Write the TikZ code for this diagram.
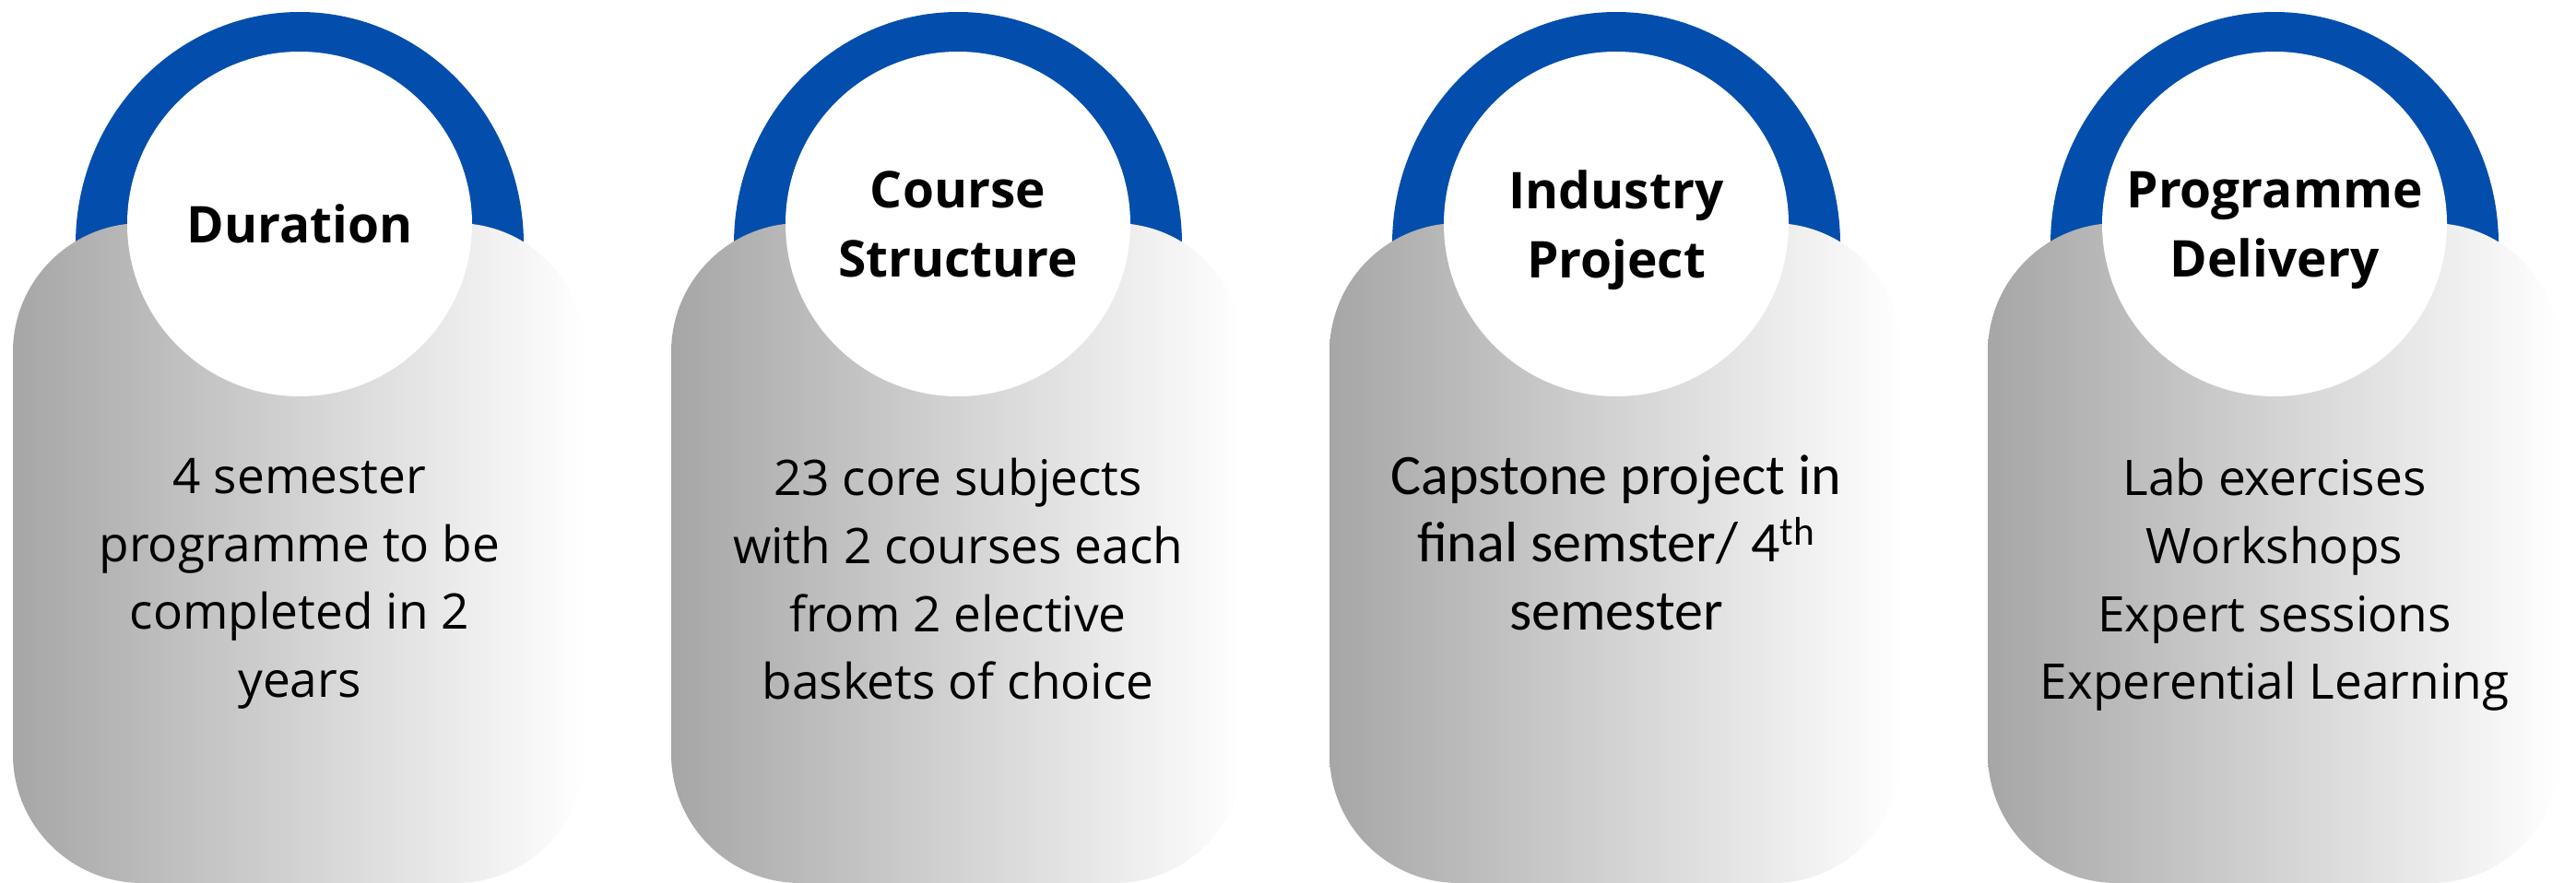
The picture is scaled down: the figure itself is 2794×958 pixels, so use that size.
\documentclass[tikz,border=0pt]{standalone}
\usepackage{fontspec}
\setmainfont{Open Sans}
\newfontfamily\capfont{Carlito}
\definecolor{ringblue}{RGB}{3,78,172}
\definecolor{shadegray}{RGB}{166,166,166}
\begin{document}
\begin{tikzpicture}[x=0.5pt, y=-0.5pt,
    ring/.style={fill=ringblue},
    panel/.style={left color=shadegray, right color=white, rounded corners=70pt},
    headcirc/.style={circle, fill=white, minimum size=187pt, inner sep=0pt, align=center,
        text depth=0pt, font=\fontsize{27.5}{37.5}\bfseries\selectfont},
    bodytext/.style={anchor=north, inner sep=0pt, align=center,
        font=\fontsize{26.6}{36.8}\selectfont}]
    \useasboundingbox (0,0) rectangle (2794,958);
    % rings and panels
    \foreach \x in {0,714,1428,2142}{
        \fill[ring] (325+\x,265) ellipse [x radius=121.5pt, y radius=126pt];
        \shade[panel] (14+\x,242) rectangle (635+\x,958);
    }
    \node[headcirc] (dur) at (325,243) {Duration};
    \node[headcirc] (crs) at (1039,243) {Course\\Structure};
    \node[headcirc] (ind) at (1753,243) {Industry\\Project};
    \node[headcirc] (del) at (2467,243) {Programme\\Delivery};
    \node[bodytext] (durtxt) at (325,497) {4 semester\\programme to be\\completed in 2\\years};
    \node[bodytext] (crstxt) at (1039,497) {23 core subjects\\with 2 courses each\\from 2 elective\\baskets of choice};
    \node[bodytext, font=\capfont\fontsize{31}{36.8}\selectfont] (indtxt) at (1753,493) {Capstone project in\\final semster/ 4\textsuperscript{th}\\semester};
    \node[bodytext] (deltxt) at (2467,497) {Lab exercises\\Workshops\\Expert sessions\\Experential Learning};
\end{tikzpicture}
\end{document}
